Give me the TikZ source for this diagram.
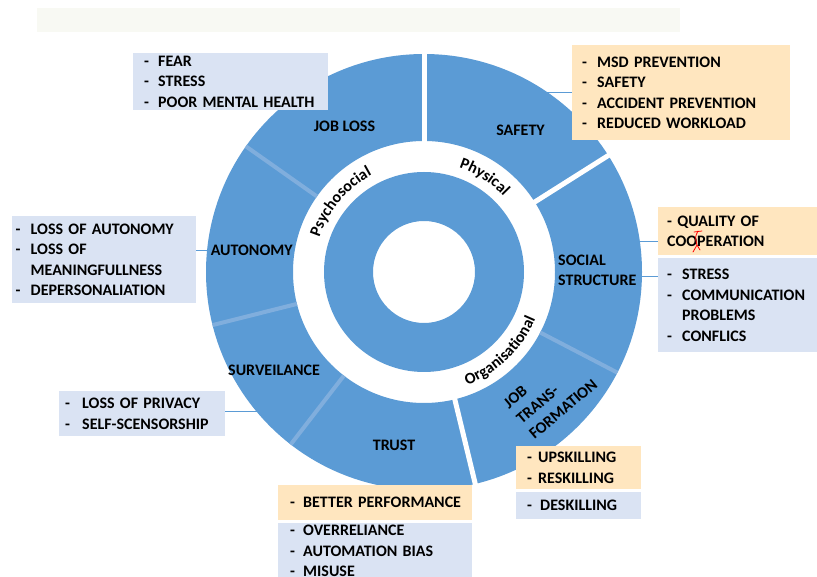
\documentclass[tikz,border=0pt]{standalone}
\usepackage{fontspec}
\setmainfont{Carlito}
\usetikzlibrary{decorations.text}
\definecolor{ringblue}{HTML}{5B9BD5}
\definecolor{seplight}{HTML}{80AEDD}
\definecolor{paleblue}{HTML}{DAE3F3}
\definecolor{paleorange}{HTML}{FFE6BF}
\definecolor{bandtint}{HTML}{F8F9F3}
% one list entry: a dash in a fixed-width slot, then the text, never broken
\newcommand\dashitem[2][15]{\mbox{\makebox[#1pt][l]{-}#2}}
\newcommand\curvefont{\fontsize{16}{16}\selectfont\bfseries}

\begin{document}
\begin{tikzpicture}[x=1pt,y=1pt,
  lbl/.style={font=\fontsize{16}{20}\selectfont\bfseries, inner sep=0pt},
  listbox/.style={anchor=north west, inner ysep=0pt, align=left,
    font=\fontsize{16}{20.5}\selectfont\bfseries},
  conn/.style={draw=ringblue, line width=1pt},
  gapline/.style={draw=white, line width=5pt},
  thinsep/.style={draw=seplight, line width=4pt},
  curved/.style={decorate, decoration={text along path, text align=center, text={|\curvefont|#1}}}
]
\clip (0,0) rectangle (817,576);
\fill[white] (0,0) rectangle (817,576);
\fill[bandtint] (37,544) rectangle (680,568);

\coordinate (ctr) at (424,304);

% outer ring and inner disc
\fill[ringblue, even odd rule] (ctr) circle (218) (ctr) circle (131);
\fill[ringblue, even odd rule] (ctr) circle (100) (ctr) circle (51);

% separators between the items of one group
\foreach \a in {144.8,194.1,232.3,-27.5}
  \draw[thinsep] ([shift={(\a:131)}]ctr) -- ([shift={(\a:218)}]ctr);
% gaps between the three groups
\foreach \a in {90,32.3,-76.4}
  \draw[gapline] ([shift={(\a:126)}]ctr) -- ([shift={(\a:224)}]ctr);

% group names on the white ring
\path[curved=Psychosocial] ([shift={(175:110)}]ctr) arc[start angle=175, end angle=105, radius=110];
\path[curved=Physical] ([shift={(92:110)}]ctr) arc[start angle=92, end angle=23, radius=110];
\path[curved=Organisational] ([shift={(-81:121)}]ctr) arc[start angle=-81, end angle=-11, radius=121];

% item names on the outer ring
\node[lbl] (jobloss) at (344.5,450) {JOB LOSS};
\node[lbl] (safety) at (520.5,446) {SAFETY};
\node[lbl, anchor=west, align=left] (social) at (558,306) {SOCIAL\\STRUCTURE};
\node[lbl, rotate=40, anchor=north west, align=left] (jobtrans) at (502,175) {JOB\\TRANS-\\FORMATION};
\node[lbl] (trust) at (394,131) {TRUST};
\node[lbl] (surv) at (274,206) {SURVEILANCE};
\node[lbl] (autonomy) at (251.7,326) {AUTONOMY};

% ends of the connectors on the ring
\coordinate (safetyend) at (546,483);
\coordinate (qualend) at (636,334);
\coordinate (stressend) at (638,299);
\coordinate (autoend) at (211,325);
\coordinate (survend) at (260,164);

% detail boxes
\node[listbox, fill=paleblue, minimum width=195pt, minimum height=57pt,
  inner xsep=11pt, text width=173pt] (fearbox) at (133,523)
  {\dashitem[14]{FEAR}\\ \dashitem[14]{STRESS}\\ \dashitem[14]{POOR MENTAL HEALTH}};

\node[listbox, fill=paleorange, minimum width=218pt, minimum height=95pt,
  inner xsep=10pt, text width=198pt] (safetybox) at (572,531)
  {\dashitem{MSD PREVENTION}\\ \dashitem{SAFETY}\\ \dashitem{ACCIDENT PREVENTION}\\ \dashitem{REDUCED WORKLOAD}};

\node[listbox, fill=paleorange, minimum width=170pt, minimum height=48pt,
  inner xsep=9pt, text width=152pt] (qualbox) at (658,369)
  {- QUALITY OF\\ COOPERATION};

\node[listbox, fill=paleblue, minimum width=170pt, minimum height=94pt,
  inner xsep=9pt, text width=152pt] (stressbox) at (658,318)
  {\dashitem{STRESS}\\ \dashitem{COMMUNICATION}\\ \hspace*{15pt}PROBLEMS\\ \dashitem{CONFLICS}};

\node[listbox, fill=paleblue, minimum width=184pt, minimum height=87pt,
  inner xsep=3.5pt, text width=177pt] (autobox) at (12,360)
  {\dashitem{LOSS OF AUTONOMY}\\ \dashitem{LOSS OF}\\ \hspace*{15pt}MEANINGFULLNESS\\ \dashitem{DEPERSONALIATION}};

\node[listbox, fill=paleblue, minimum width=166pt, minimum height=45pt,
  inner xsep=6pt, text width=154pt] (survbox) at (59,185)
  {\dashitem[17]{LOSS OF PRIVACY}\\ \dashitem[17]{SELF-SCENSORSHIP}};

\node[listbox, fill=paleorange, minimum width=194pt, minimum height=35pt,
  inner xsep=9pt, text width=176pt] (perfbox) at (278,91)
  {\hspace*{3pt}\dashitem[13]{BETTER PERFORMANCE}};

\node[listbox, fill=paleblue, minimum width=194pt, minimum height=56pt,
  inner xsep=9pt, text width=176pt] (relybox) at (278,53)
  {\hspace*{3pt}\dashitem[13]{OVERRELIANCE}\\ \hspace*{3pt}\dashitem[13]{AUTOMATION BIAS}\\ \hspace*{3pt}\dashitem[13]{MISUSE}};

\node[listbox, fill=paleorange, minimum width=125pt, minimum height=43pt,
  inner xsep=11pt, text width=103pt] (upbox) at (516,130)
  {\dashitem[11]{UPSKILLING}\\ \dashitem[11]{RESKILLING}};

\node[listbox, fill=paleblue, minimum width=125pt, minimum height=27pt,
  inner xsep=11pt, text width=103pt] (deskbox) at (516,84)
  {\dashitem[13]{DESKILLING}};

% connectors from the ring to the boxes
\draw[conn] (safetyend) -- (safetyend -| safetybox.west);
\draw[conn] (qualend) -- (qualend -| qualbox.west);
\draw[conn] (stressend) -- (stressend -| stressbox.west);
\draw[conn] (autoend) -- (autoend -| autobox.east);
\draw[conn] (survend) -- (survend -| survbox.east);

% red proof-reading mark in COOPERATION
\draw[red, line width=0.8pt, line cap=round] (694,344) -- (702,345);
\draw[red, line width=0.8pt, line cap=round, line join=round]
  (698,345) .. controls (695,339) .. (697,331) -- (693,324);
\draw[red, line width=0.8pt, line cap=round] (697,331) -- (700,326);
\end{tikzpicture}
\end{document}
